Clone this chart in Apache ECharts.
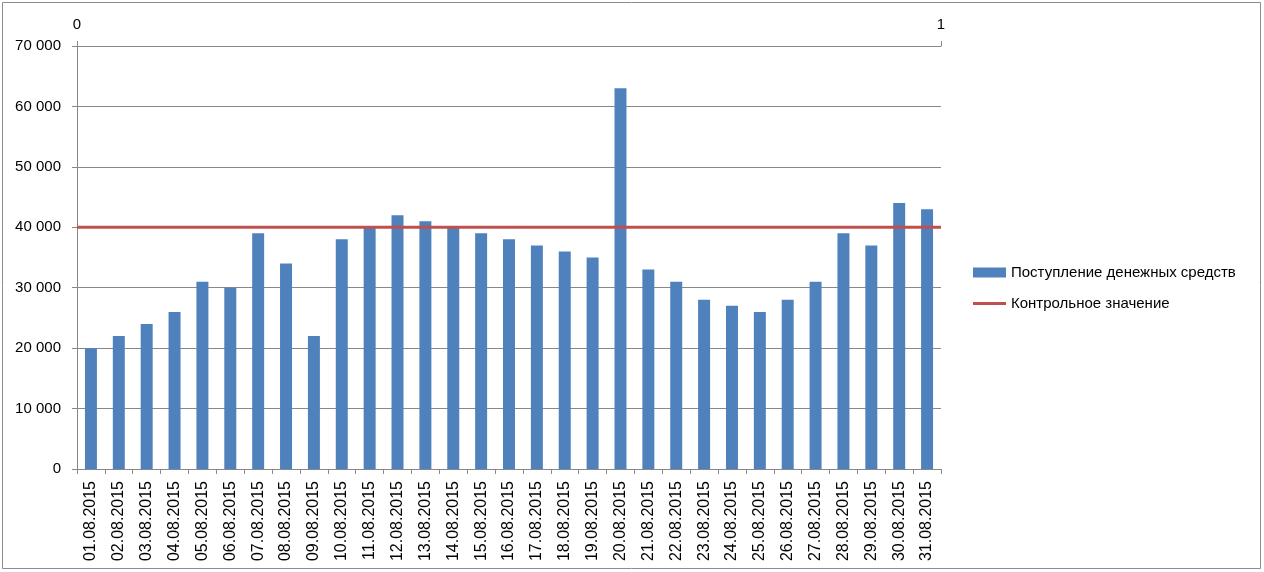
<!DOCTYPE html>
<html><head><meta charset="utf-8">
<script src="https://cdn.jsdelivr.net/npm/echarts@6/dist/echarts.min.js"></script>
<style>html,body{margin:0;padding:0;background:#fff}#c{width:1264px;height:572px}</style>
</head><body><div id="c"></div>
<script>
var categories = ['01.08.2015','02.08.2015','03.08.2015','04.08.2015','05.08.2015','06.08.2015','07.08.2015','08.08.2015','09.08.2015','10.08.2015','11.08.2015','12.08.2015','13.08.2015','14.08.2015','15.08.2015','16.08.2015','17.08.2015','18.08.2015','19.08.2015','20.08.2015','21.08.2015','22.08.2015','23.08.2015','24.08.2015','25.08.2015','26.08.2015','27.08.2015','28.08.2015','29.08.2015','30.08.2015','31.08.2015'];
var receipts = [20000,22000,24000,26000,31000,30000,39000,34000,22000,38000,40000,42000,41000,40000,39000,38000,37000,36000,35000,63000,33000,31000,28000,27000,26000,28000,31000,39000,37000,44000,43000];
var controlX = [0, 1];
var controlY = [40000, 40000];
var seriesNames = ['Поступление денежных средств', 'Контрольное значение'];

var font = 'Liberation Sans';
var gray = '#888888';
function fmt(v){ return String(v).replace(/\B(?=(\d{3})+(?!\d))/g, ' '); }

var chart = echarts.init(document.getElementById('c'), null, {renderer:'canvas'});
chart.setOption({
  animation: false,
  textStyle: {fontFamily: font},
  graphic: [{type:'rect', shape:{x:2.5,y:2.5,width:1258,height:566}, style:{fill:'none', stroke:'#8c8c8c', lineWidth:1}, silent:true}],
  grid: {left:77, right:323, top:46, bottom:103, containLabel:false},
  legend: [{
    data:[{name:seriesNames[0], icon:'rect'}], orient:'vertical', left:973, top:265, padding:0,
    itemWidth:33, itemHeight:10,
    textStyle:{fontFamily:font, fontSize:15, color:'#000'}
  },{
    data:[{name:seriesNames[1], icon:'rect'}], orient:'vertical', left:973, top:296, padding:0,
    itemWidth:33, itemHeight:3,
    textStyle:{fontFamily:font, fontSize:15, color:'#000'}
  }],
  xAxis: [{
    type:'category', data:categories, boundaryGap:true, position:'bottom',
    axisLine:{lineStyle:{color:gray}},
    axisTick:{show:true, alignWithLabel:false, length:5, lineStyle:{color:gray}},
    axisLabel:{rotate:90, fontSize:16, color:'#000', margin:12, interval:0, fontFamily:font},
    splitLine:{show:false}
  },{
    type:'value', position:'top', min:0, max:1, interval:1,
    axisLine:{show:true, lineStyle:{color:gray}},
    axisTick:{show:true, length:5, inside:false, lineStyle:{color:gray}},
    axisLabel:{fontSize:15, color:'#000', margin:14, fontFamily:font},
    splitLine:{show:false}
  }],
  yAxis: [{
    type:'value', min:0, max:70000, interval:10000,
    axisLine:{show:true, lineStyle:{color:gray}},
    axisTick:{show:true, length:5, lineStyle:{color:gray}},
    axisLabel:{fontSize:15, color:'#000', margin:16, formatter:fmt, fontFamily:font},
    splitLine:{show:true, lineStyle:{color:gray, width:1}}
  }],
  series: [{
    name:seriesNames[0], type:'bar', xAxisIndex:0, yAxisIndex:0, data:receipts,
    barWidth:'43%', itemStyle:{color:'#4F81BD'}
  },{
    name:seriesNames[1], type:'line', xAxisIndex:1, yAxisIndex:0,
    data: controlX.map(function(x,i){
      var d = {value:[x, controlY[i]]};
      if (i === controlX.length-1) d.label = {show:true, position:'right', distance:14, formatter:function(p){return fmt(p.value[1]);}, fontSize:15, color:'#000', fontFamily:font};
      return d;
    }),
    symbol:'none', lineStyle:{color:'#C0504D', width:3}, itemStyle:{color:'#C0504D'},
    z:5
  }]
});
</script></body></html>
